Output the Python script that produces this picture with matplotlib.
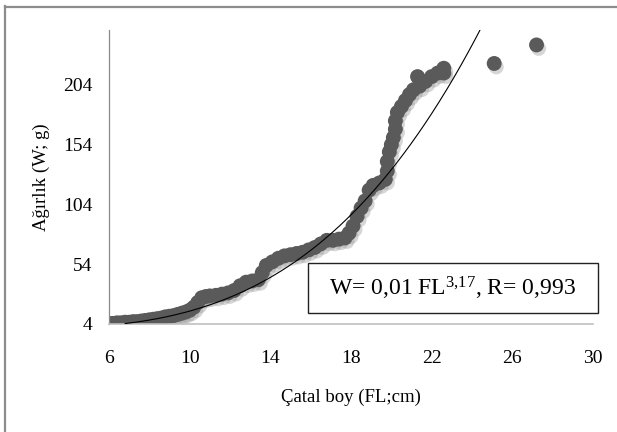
import matplotlib
matplotlib.use("Agg")
import matplotlib.pyplot as plt
import matplotlib.patheffects as pe
from matplotlib.patches import Rectangle
from matplotlib.lines import Line2D
import numpy as np

# ---- data ----
fork_length = [6.0, 6.2, 6.4, 6.6, 6.8, 7.0, 7.2, 7.4, 7.6, 7.8, 8.0, 8.2, 8.4, 8.6, 8.8,
               9.0, 9.2, 9.4, 9.6, 9.8, 10.0, 10.2, 10.4, 10.6, 10.8, 11.0, 11.3, 11.6,
               11.9, 12.2, 12.5, 12.8, 13.1, 13.4, 13.6, 13.8, 14.1, 14.4, 14.7, 15.0,
               15.3, 15.6, 15.9, 16.2, 16.5, 16.8, 17.1, 17.4, 17.7, 17.9, 18.1, 18.3,
               18.5, 18.7, 18.9, 19.1, 19.4, 19.7, 19.8, 19.8, 19.9, 20.0, 20.1, 20.2,
               20.2, 20.3, 20.5, 20.7, 20.9, 21.1, 21.4, 21.3, 21.7, 22.0, 22.3, 22.6,
               22.6, 25.1, 27.2]
weight = [4.5, 4.5, 5, 5, 5.5, 5.5, 6, 6, 6.5, 7, 7.5, 8, 8.5, 9, 10,
          10.5, 11, 12, 13, 14, 15.5, 18, 22, 26, 27, 27.5, 28, 29,
          30, 32, 36, 39, 40, 41, 47, 53, 56, 59, 61, 62,
          63, 64, 66, 68, 71, 74, 74, 75, 76, 80, 86, 94,
          101, 107, 116, 120, 122, 125, 132, 140, 148, 154, 160, 167,
          174, 181, 186, 191, 196, 200, 203, 211, 207, 211, 214, 218,
          214, 222, 237.5]

# power trendline shown in the chart: W = a * FL^b
coef_a = 0.01
coef_b = 3.17
trend_start, trend_end = 6.8, 24.6

x_ticks = [6, 10, 14, 18, 22, 26, 30]
y_ticks = [4, 54, 104, 154, 204]
x_label = "Çatal boy (FL;cm)"
y_label = "Ağırlık (W; g)"
eq_text = r"W= 0,01 FL$^{\mathrm{3{,}17}}$, R= 0,993"

# ---- styling ----
plt.rcParams['font.family'] = ['Liberation Serif', 'DejaVu Serif']
plt.rcParams['mathtext.fontset'] = 'custom'
plt.rcParams['mathtext.rm'] = 'Liberation Serif'
plt.rcParams['mathtext.it'] = 'Liberation Serif:italic'
plt.rcParams['mathtext.bf'] = 'Liberation Serif:bold'

W, H = 617, 432
fig = plt.figure(figsize=(W / 100, H / 100), dpi=100)
fig.patch.set_facecolor('white')

ax_l, ax_r, ax_b, ax_t = 109, 593, 324, 30
ax = fig.add_axes([ax_l / W, 1 - ax_b / H, (ax_r - ax_l) / W, (ax_b - ax_t) / H])
ax.set_xlim(6, 30)
ax.set_ylim(4, 250)

sc = ax.scatter(fork_length, weight, s=115, color='#5a5a5a', edgecolors='none', zorder=2)
sc.set_path_effects([pe.SimplePatchShadow(offset=(1.5, -2.5), shadow_rgbFace='#999999', alpha=0.4),
                     pe.Normal()])

xs = np.linspace(trend_start, trend_end, 300)
ax.plot(xs, coef_a * xs ** coef_b, color='black', lw=0.8, zorder=3)

ax.set_xticks(x_ticks)
ax.set_yticks(y_ticks)
ax.tick_params(axis='both', length=0, labelsize=14, colors='black')
ax.tick_params(axis='x', pad=19)
ax.tick_params(axis='y', pad=12)

for s in ['top', 'right']:
    ax.spines[s].set_visible(False)
ax.spines['left'].set_color('#8a8a8a')
ax.spines['left'].set_linewidth(0.9)
ax.spines['bottom'].set_color('#c0c0c0')
ax.spines['bottom'].set_linewidth(1.2)

fig.text(351 / W, 1 - 397 / H, x_label, ha='center', va='center', fontsize=13.5)
fig.text(41 / W, 1 - 177 / H, y_label, ha='center', va='center', fontsize=13.5, rotation=90)

# equation box
bx0, bx1, by0, by1 = 308, 598, 263, 313
fig.add_artist(Rectangle((bx0 / W, 1 - by1 / H), (bx1 - bx0) / W, (by1 - by0) / H,
                         transform=fig.transFigure, facecolor='white',
                         edgecolor='#222222', lw=1.0, zorder=5))
fig.text((bx0 + bx1) / 2 / W, 1 - (by0 + by1) / 2 / H, eq_text, ha='center', va='center',
         fontsize=17, zorder=6)

# outer frame (left and top edges visible)
frame_c = '#8c8c8c'
fig.add_artist(Line2D([4.5 / W, 4.5 / W], [0, 1 - 6 / H], transform=fig.transFigure,
                      color=frame_c, lw=1.6))
fig.add_artist(Line2D([4.5 / W, 1], [1 - 6.5 / H, 1 - 6.5 / H], transform=fig.transFigure,
                      color=frame_c, lw=1.6))

fig.savefig('out.png', dpi=100, facecolor='white')
